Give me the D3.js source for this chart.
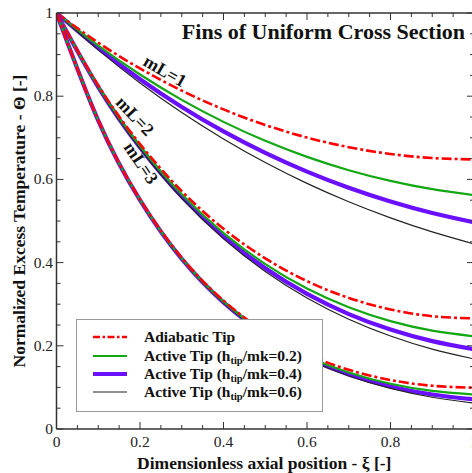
<!DOCTYPE html>
<html><head><meta charset="utf-8">
<script src="https://cdn.jsdelivr.net/npm/d3@7/dist/d3.min.js"></script>
<style>html,body{margin:0;padding:0;background:#fff;}svg{display:block;}</style>
</head><body>
<svg id="chart" width="472" height="473"></svg>
<script>
const xi = [0,0.1,0.2,0.3,0.4,0.5,0.6,0.7,0.8,0.9,1.0];
// mL = 1
const adi1 = [1,0.92872,0.86673,0.81342,0.76825,0.73077,0.70059,0.67744,0.66106,0.65130,0.64805];
const act1a = [1,0.92142,0.85205,0.79123,0.73831,0.69278,0.65418,0.62214,0.59633,0.57647,0.56239];
const act1b = [1,0.91582,0.84080,0.77421,0.71536,0.66367,0.61861,0.57976,0.54671,0.51912,0.49673];
const act1c = [1,0.91140,0.83191,0.76075,0.69721,0.64064,0.59048,0.54624,0.50746,0.47376,0.44480];
// mL = 2
const adi2 = [1,0.82597,0.68509,0.57171,0.48128,0.41015,0.35549,0.31510,0.28735,0.27114,0.26580];
const act2a = [1,0.82359,0.68023,0.56417,0.47076,0.39623,0.33761,0.29254,0.25921,0.23628,0.22284];
const act2b = [1,0.82187,0.67672,0.55873,0.46316,0.38619,0.32471,0.27626,0.23890,0.21113,0.19183];
const act2c = [1,0.82056,0.67406,0.55462,0.45743,0.37859,0.31495,0.26396,0.22355,0.19212,0.16840];
// mL = 3
const adi3 = [1,0.74232,0.55196,0.41165,0.30866,0.23366,0.17985,0.14235,0.11775,0.10383,0.09933];
const act3a = [1,0.74182,0.55091,0.40996,0.30617,0.23016,0.17501,0.13573,0.10875,0.09164,0.08284];
const act3b = [1,0.74146,0.55016,0.40875,0.30440,0.22765,0.17154,0.13099,0.10232,0.08292,0.07105];
const act3c = [1,0.74120,0.54960,0.40784,0.30306,0.22577,0.16894,0.12744,0.09749,0.07638,0.06220];

const xTicks = [0,0.2,0.4,0.6,0.8,1];
const yTicks = [0,0.2,0.4,0.6,0.8,1];
const xTickLabels = ["0","0.2","0.4","0.6","0.8","1"];
const yTickLabels = ["0","0.2","0.4","0.6","0.8","1"];
const curveLabels = ["mL=1","mL=2","mL=3"];
const legendLabels = ["Adiabatic Tip","Active Tip (h","Active Tip (h","Active Tip (h"];
const legendRatios = [null,"0.2","0.4","0.6"];

const svg = d3.select("#chart");
const serif = "'Liberation Serif','Times New Roman',serif";
const L = 56.5, R = 474, T = 13, B = 429;
const x = d3.scaleLinear().domain([0,1]).range([L,R]);
const y = d3.scaleLinear().domain([0,1]).range([B,T]);

const styles = {
  adi: {color:"#ff0000", w:2.6, dash:"10,3,3,3"},
  a: {color:"#13a813", w:2.2, dash:null},
  b: {color:"#6a10ff", w:4.2, dash:null},
  c: {color:"#222222", w:1.2, dash:null}
};

const line = d3.line().x((d,i)=>x(xi[i])).y(d=>y(d)).curve(d3.curveNatural);
const groups = [[adi1,act1a,act1b,act1c],[adi2,act2a,act2b,act2c],[adi3,act3a,act3b,act3c]];
const order = [[2,"b"],[3,"c"],[1,"a"],[0,"adi"]];
const plot = svg.append("g");
svg.append("defs").append("clipPath").attr("id","clip").append("rect")
  .attr("x",L).attr("y",T).attr("width",R-L).attr("height",B-T);
plot.attr("clip-path","url(#clip)");
groups.forEach(g=>{
  order.forEach(([idx,key])=>{
    const s = styles[key];
    plot.append("path").attr("d",line(g[idx])).attr("fill","none")
      .attr("stroke",s.color).attr("stroke-width",s.w)
      .attr("stroke-dasharray",s.dash);
  });
});

// axes frame
const ax = svg.append("g").attr("stroke","#333").attr("fill","none");
ax.append("line").attr("x1",L).attr("x2",R).attr("y1",B).attr("y2",B).attr("stroke-width",1.5);
ax.append("line").attr("x1",L).attr("x2",R).attr("y1",T).attr("y2",T).attr("stroke-width",1.5);
ax.append("line").attr("x1",L).attr("x2",L).attr("y1",T).attr("y2",B).attr("stroke-width",1.5);
ax.append("line").attr("x1",R).attr("x2",R).attr("y1",T).attr("y2",B).attr("stroke-width",1.5);

const minor = d3.range(0,1.0001,0.05);
minor.forEach(v=>{
  const isMajor = Math.abs(v*5 - Math.round(v*5))<1e-6;
  const len = isMajor?7:4;
  ax.append("line").attr("x1",x(v)).attr("x2",x(v)).attr("y1",B).attr("y2",B-len).attr("stroke-width",1);
  ax.append("line").attr("x1",x(v)).attr("x2",x(v)).attr("y1",T).attr("y2",T+len).attr("stroke-width",1);
  ax.append("line").attr("y1",y(v)).attr("y2",y(v)).attr("x1",L).attr("x2",L+len).attr("stroke-width",1);
  ax.append("line").attr("y1",y(v)).attr("y2",y(v)).attr("x1",R).attr("x2",R-len).attr("stroke-width",1);
});

// tick labels
xTicks.forEach((v,i)=>{
  svg.append("text").attr("x",x(v)).attr("y",447).attr("text-anchor","middle")
    .attr("font-family",serif).attr("font-size",15.5).attr("fill","#222").text(xTickLabels[i]);
});
yTicks.forEach((v,i)=>{
  svg.append("text").attr("x",53).attr("y",y(v)+5).attr("text-anchor","end")
    .attr("font-family",serif).attr("font-size",15.5).attr("fill","#222").text(yTickLabels[i]);
});

// axis titles
svg.append("text").attr("x",(L+R)/2 - 1).attr("y",469).attr("text-anchor","middle")
  .attr("font-family",serif).attr("font-weight","bold").attr("font-size",17.5).attr("fill","#111")
  .text("Dimensionless axial position - ξ [-]");
svg.append("text").attr("transform",`translate(25,${(T+B)/2}) rotate(-90)`).attr("text-anchor","middle")
  .attr("font-family",serif).attr("font-weight","bold").attr("font-size",17.5).attr("fill","#111")
  .text("Normalized Excess Temperature - Θ [-]");

// title
svg.append("text").attr("x",465).attr("y",39).attr("text-anchor","end")
  .attr("font-family",serif).attr("font-weight","bold").attr("font-size",22).attr("fill","#111")
  .text("Fins of Uniform Cross Section");

// curve labels
const labelPos = [[165,71,30],[135,116,47],[141,163,56]];
curveLabels.forEach((t,i)=>{
  const [lx,ly,a] = labelPos[i];
  svg.append("text").attr("transform",`translate(${lx},${ly}) rotate(${a})`)
    .attr("text-anchor","middle").attr("dominant-baseline","central")
    .attr("font-family",serif).attr("font-weight","bold").attr("font-size",18).attr("fill","#111")
    .text(t);
});

// legend
const lg = svg.append("g");
lg.append("rect").attr("x",76.5).attr("y",319.5).attr("width",246).attr("height",92)
  .attr("fill","#fff").attr("stroke","#999").attr("stroke-width",1);
const keys = ["adi","a","b","c"];
const rowsY = [337,356,374,392];
keys.forEach((k,i)=>{
  const s = styles[k];
  lg.append("line").attr("x1",93).attr("x2",127).attr("y1",rowsY[i]).attr("y2",rowsY[i])
    .attr("stroke",s.color).attr("stroke-width",s.w).attr("stroke-dasharray",s.dash?"7,2.5,2.5,2.5":null);
  const t = lg.append("text").attr("x",144).attr("y",rowsY[i]+5)
    .attr("font-family",serif).attr("font-weight","bold").attr("font-size",15.5).attr("fill","#111");
  t.append("tspan").text(legendLabels[i]);
  if (legendRatios[i]) {
    t.append("tspan").attr("font-size",10.5).attr("dy",3).text("tip");
    t.append("tspan").attr("dy",-3).text("/mk=" + legendRatios[i] + ")");
  }
});
</script>
</body></html>
